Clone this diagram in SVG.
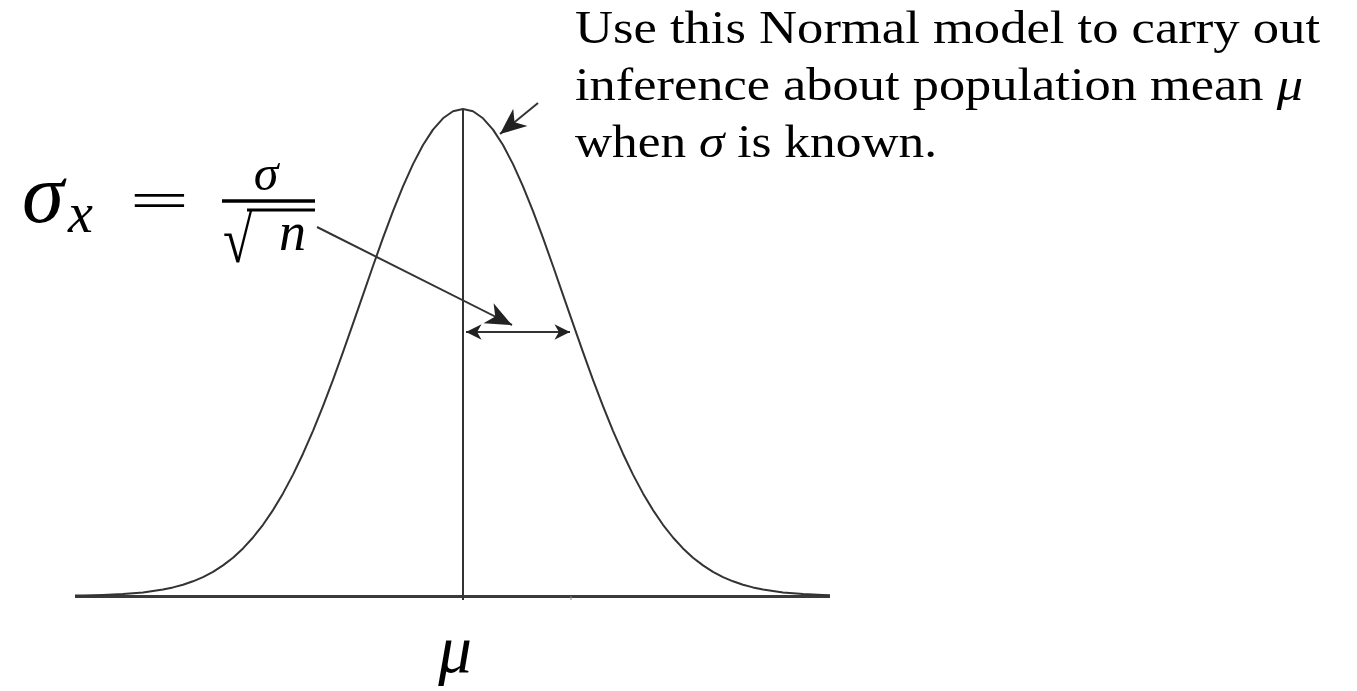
<svg xmlns="http://www.w3.org/2000/svg" width="1357" height="691" viewBox="0 0 1357 691">
<style>
.ln{stroke:#333;stroke-width:2;fill:none}
.ser{font-family:"Liberation Serif","Times New Roman",serif;fill:#000}
.it{font-style:italic}
</style>
<defs>
<marker id="big" markerUnits="userSpaceOnUse" orient="auto" refX="0" refY="0" markerWidth="30" markerHeight="30" viewBox="-22 -11 24 22" overflow="visible">
<path d="M0,0 L-21,-9 L-15,0 L-21,9 Z" fill="#222"/>
</marker>
<marker id="small" markerUnits="userSpaceOnUse" orient="auto-start-reverse" refX="0" refY="0" markerWidth="20" markerHeight="20" viewBox="-16 -8 18 16" overflow="visible">
<path d="M0,0 L-14,-7 L-10,0 L-14,7 Z" fill="#222"/>
</marker>
</defs>
<rect width="1357" height="691" fill="#fff"/>

<g id="axis">
<line x1="75" y1="596.5" x2="830" y2="596.5" stroke="#3a3a3a" stroke-width="3"/>
<line x1="463" y1="109" x2="463" y2="600" stroke="#333" stroke-width="2"/>
<line x1="571" y1="596" x2="571" y2="600" stroke="#888" stroke-width="1"/>
</g>

<g id="curve">
<polyline class="ln" stroke-linejoin="round" points="75,595.6 83,595.5 103,595.0 123,594.1 143,592.4 163,589.6 173,587.4 183,584.8 193,581.3 203,577.1 213,571.8 223,565.4 233,557.7 243,548.4 253,537.5 263,524.8 273,510.1 283,493.4 293,474.6 303,453.7 313,430.8 323,406.1 333,379.8 343,352.2 353,323.7 363,294.8 373,266.0 383,237.9 393,211.2 403,186.4 413,164.1 423,145.0 433,129.6 443,118.3 453,111.3 463,109 473,111.3 483,118.3 493,129.6 503,145.0 513,164.1 523,186.4 533,211.2 543,237.9 553,266.0 563,294.8 573,323.7 583,352.2 593,379.8 603,406.1 613,430.8 623,453.7 633,474.6 643,493.4 653,510.1 663,524.8 673,537.5 683,548.4 693,557.7 703,565.4 713,571.8 723,577.1 733,581.3 743,584.8 753,587.4 763,589.6 783,592.4 803,594.1 823,595.0 830,595.3"/>
</g>

<g id="connectors">
<line class="ln" x1="538" y1="103" x2="500" y2="134" marker-end="url(#big)"/>
<line class="ln" x1="317" y1="227" x2="512" y2="325" marker-end="url(#big)"/>
<line class="ln" x1="466" y1="332" x2="570" y2="332" marker-start="url(#small)" marker-end="url(#small)"/>
</g>

<g id="formula">
<text class="ser it" x="22" y="222" font-size="85">σ</text>
<text class="ser it" x="68" y="232" font-size="56">x</text>
<text class="ser" x="0" y="0" font-size="100" text-anchor="middle" transform="translate(159.5,218) scale(1.06,0.52)">=</text>
<line x1="222" y1="201" x2="315" y2="201" stroke="#000" stroke-width="3.5"/>
<text class="ser it" x="266" y="190" font-size="50" text-anchor="middle">σ</text>
<text class="ser" x="0" y="0" font-size="58" transform="translate(223,262) scale(0.92,1.13)">√</text>
<line x1="247" y1="210" x2="315" y2="210" stroke="#000" stroke-width="3"/>
<text class="ser it" x="279" y="250" font-size="54">n</text>
</g>

<g id="mu-label">
<text class="ser it" x="455" y="672" font-size="67" text-anchor="middle">μ</text>
</g>

<g id="note">
<text class="ser" x="575" y="43" font-size="46" textLength="745" lengthAdjust="spacingAndGlyphs">Use this Normal model to carry out</text>
<text class="ser" x="575" y="100" font-size="46" textLength="728" lengthAdjust="spacingAndGlyphs">inference about population mean <tspan class="it">μ</tspan></text>
<text class="ser" x="575" y="157" font-size="46" textLength="362" lengthAdjust="spacingAndGlyphs">when <tspan class="it">σ</tspan> is known.</text>
</g>
</svg>
